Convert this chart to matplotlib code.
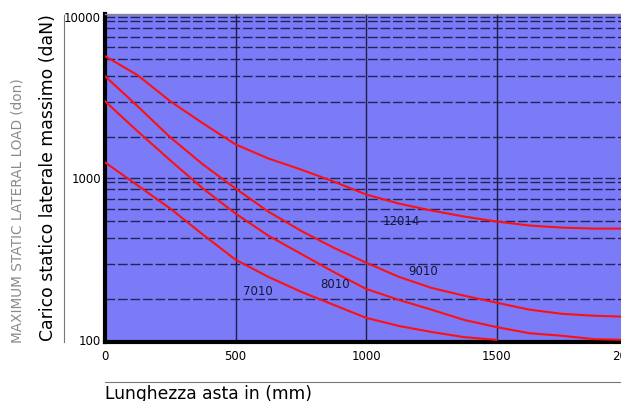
import matplotlib
matplotlib.use("Agg")
import matplotlib.pyplot as plt
from matplotlib.ticker import FixedLocator, NullFormatter

# ---- data ----
lengths = [0, 125, 250, 375, 500, 625, 750, 875, 1000, 1125, 1250, 1375, 1500,
           1625, 1750, 1875, 2000]
load_12014 = [5728, 4362, 3008, 2196, 1626, 1331, 1137, 958, 796, 699, 633, 581, 541,
              511, 496, 489, 489]
load_9010 = [4302, 2801, 1798, 1222, 867, 624, 475, 373, 301, 246, 210, 188, 170,
             154, 145, 141, 139]
load_8010 = [3008, 1959, 1294, 867, 606, 443, 342, 264, 207, 177, 154, 133, 120,
             110, 106, 101, 100]
lengths_7010 = [0, 125, 250, 375, 500, 625, 750, 875, 1000, 1125, 1250, 1375, 1500]
load_7010 = [1257, 905, 651, 449, 314, 246, 199, 165, 137, 122, 112, 104, 100]

series_names = ["12014", "9010", "8010", "7010"]
label_pos = {"12014": (1134, 541), "9010": (1218, 265), "8010": (881, 220), "7010": (586, 199)}

x_ticks = [0, 500, 1000, 1500, 2000]
y_ticks = [100, 1000, 10000]
y_ticklabels = ["100", "1000", "10000"]

# ---- figure ----
W, H = 621, 401
fig = plt.figure(figsize=(W / 100, H / 100), dpi=100)
fig.patch.set_facecolor("white")

left_px, right_px, top_px, bot_px = 105, 627, 14, 342
ax = fig.add_axes([left_px / W, 1 - bot_px / H, (right_px - left_px) / W, (bot_px - top_px) / H])
ax.set_facecolor("#7b7bf7")
ax.set_yscale("log")
ax.set_xlim(0, 2000)
ax.set_ylim(97, 10440)

# grid: dashed horizontals at the reference's minor positions, solid verticals
mults = [1.80, 2.96, 4.30, 5.48, 6.51, 7.51, 8.55, 9.44]
minor_vals = [m * d for d in (100, 1000) for m in mults]
ax.yaxis.set_minor_locator(FixedLocator(minor_vals))
ax.yaxis.set_minor_formatter(NullFormatter())
for v in minor_vals + [1000, 10000]:
    ax.axhline(v, color="#23235a", lw=1.0, ls=(0, (7, 2)), zorder=1)
for xv in [500, 1000, 1500]:
    ax.axvline(xv, color="#1e1e4a", lw=1.0, zorder=1)

red = "#ff1010"
ax.plot(lengths, load_12014, color=red, lw=1.5, zorder=3)
ax.plot(lengths, load_9010, color=red, lw=1.5, zorder=3)
ax.plot(lengths, load_8010, color=red, lw=1.5, zorder=3)
ax.plot(lengths_7010, load_7010, color=red, lw=1.5, zorder=3)

for name in series_names:
    x, y = label_pos[name]
    ax.text(x, y, name, fontsize=8.5, color="#15153a", ha="center", va="center", zorder=4)

ax.set_yticks(y_ticks)
ax.set_yticklabels(y_ticklabels)
ax.set_xticks(x_ticks)
ax.set_xticklabels([str(t) for t in x_ticks])
ax.tick_params(axis="both", which="both", length=0, labelsize=8.5, colors="black")
ax.tick_params(axis="y", pad=3)
ax.tick_params(axis="x", pad=6)

for s in ["left", "bottom"]:
    ax.spines[s].set_linewidth(3)
    ax.spines[s].set_color("black")
ax.spines["top"].set_linewidth(1)
ax.spines["top"].set_color("#888888")
ax.spines["right"].set_visible(False)

# axis titles and decorative lines
fig.text(48 / W, 1 - 178 / H, "Carico statico laterale massimo (daN)", rotation=90,
         fontsize=12.4, ha="center", va="center", color="black")
fig.text(18 / W, 1 - 343 / H, "MAXIMUM STATIC LATERAL LOAD (don)", rotation=90,
         fontsize=9.8, ha="center", va="bottom", color="#8a8a8a", family="DejaVu Sans")
fig.add_artist(plt.Line2D([64 / W, 64 / W], [1 - 15 / H, 1 - 342 / H], color="#777777", lw=0.8))
fig.add_artist(plt.Line2D([105 / W, 1.0], [1 - 382 / H, 1 - 382 / H], color="#777777", lw=0.8))
fig.text(105 / W, 1 - 394 / H, "Lunghezza asta in (mm)", fontsize=12.3, ha="left", va="center", color="black")

fig.savefig("out.png", dpi=100)
